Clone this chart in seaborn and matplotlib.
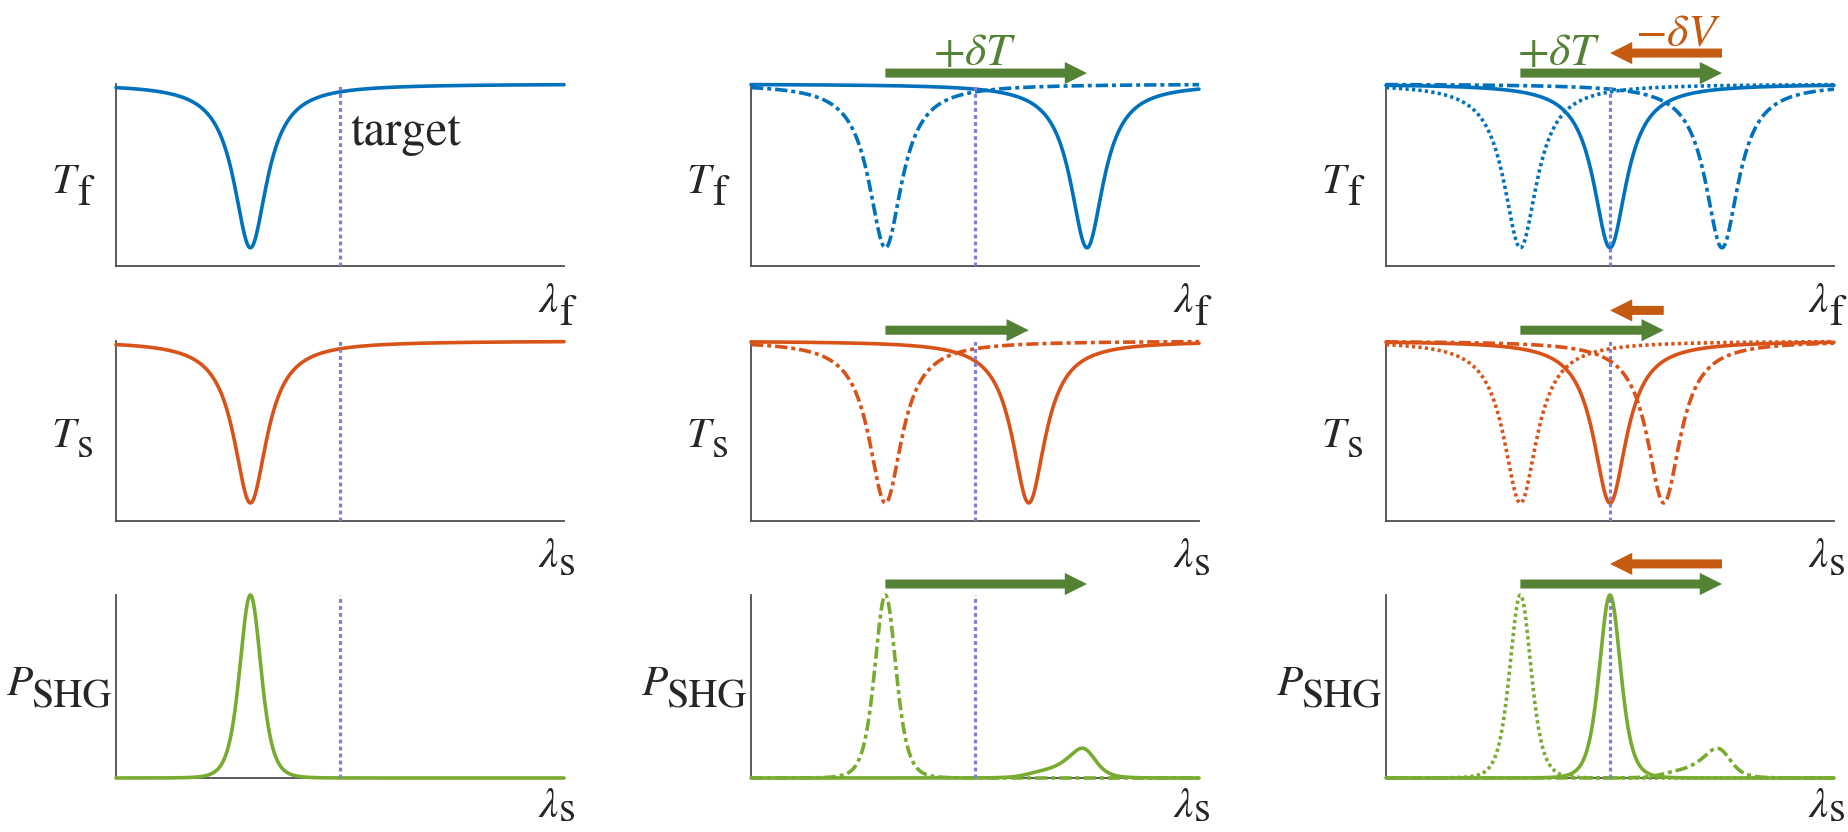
import numpy as np
import pandas as pd
import matplotlib
matplotlib.use("Agg")
import matplotlib.pyplot as plt
import seaborn as sns

# ---------------- data ----------------
# resonance centres as a fraction of the wavelength window, one list per column
fund_centres = [[0.30], [0.30, 0.75], [0.30, 0.75, 0.50]]   # T_f dips
sh_centres = [[0.30], [0.30, 0.62], [0.30, 0.62, 0.50]]     # T_s dips
curve_kinds = [["solid"], ["dashdot", "solid"], ["dotted", "dashdot", "solid"]]
dip_depth = 0.90     # transmission at resonance = 0.10
dip_hwhm = 0.045     # Lorentzian half width of the transmission dips
shg_hwhm = 0.055     # half width of the resonance factors in P_SHG
target_wl = 0.50
y_tick_values = [0, 0.5, 1]
x_tick_values = [0, 1]
row_names = [("T", "f"), ("T", "s"), ("P", "SHG")]
xlab_names = [("\\lambda", "f"), ("\\lambda", "s"), ("\\lambda", "s")]
shift_T_text = "+\\delta T"
shift_V_text = "-\\delta V"
target_text = "target"

# ---------------- style ----------------
sns.set_style("white")
plt.rcParams["font.family"] = ["STIXGeneral", "DejaVu Serif"]
plt.rcParams["mathtext.fontset"] = "stix"

W, H = 1849, 832
fig = plt.figure(figsize=(W / 100, H / 100), dpi=100)

row_colors = ["#0072BD", "#D95319", "#77AC30"]
green_arrow = "#548235"
orange_arrow = "#C55A11"
target_color = "#7F7FD8"
spine_color = "#4d4d4d"
dash_map = {"solid": "-", "dashdot": (0, (3.4, 1.1, 1.1, 1.1)), "dotted": (0, (0.9, 0.9))}

col_left = [116, 751, 1386]
ax_w = 448
row_top = [84, 341, 595]
row_h = [182, 180, 183]

x = np.linspace(0, 1, 1201)


def lorentz(c, w):
    return 1 / (1 + ((x - c) / w) ** 2)


fig.canvas.draw()
renderer = fig.canvas.get_renderer()


def composite(x_px, base_px, main, sub, drop, dx, size=31, sub_size=31):
    t = fig.text(x_px / W, 1 - base_px / H, f"${main}$", fontsize=size,
                 va="baseline", ha="left")
    bb = t.get_window_extent(renderer=renderer)
    fig.text((bb.x1 + dx) / W, 1 - (base_px + drop) / H, sub, fontsize=sub_size,
             va="baseline", ha="left", family="STIXGeneral")


label_dy = [18, 16, 8.5]
label_drop = [12, 10, 13]
label_dx = [-65, -65, -110]
label_sub_size = [31, 31, 29]
xlab_base = [46, 46, 39]
xlab_drop = [13, 8, 4]

for r in range(3):
    for c in range(3):
        L, T, h = col_left[c], row_top[r], row_h[r]
        ax = fig.add_axes([L / W, 1 - (T + h) / H, ax_w / W, h / H])
        for k, kind in enumerate(curve_kinds[c]):
            cf = fund_centres[c][k]
            cs = sh_centres[c][k]
            if r == 0:
                y = 1 - dip_depth * lorentz(cf, dip_hwhm)
            elif r == 1:
                y = 1 - dip_depth * lorentz(cs, dip_hwhm)
            else:
                y = lorentz(cf, shg_hwhm) ** 2 * lorentz(cs, shg_hwhm)
            df = pd.DataFrame({"wl": x, "val": y})
            sns.lineplot(data=df, x="wl", y="val", ax=ax, color=row_colors[r],
                         lw=2.6, linestyle=dash_map[kind], errorbar=None,
                         clip_on=False, zorder=3)
        ax.axvline(target_wl, ymin=0, ymax=1, color=target_color, lw=2.3,
                   linestyle=(0, (1.2, 1.0)), zorder=4)
        ax.set_xlim(0, 1)
        ax.set_ylim(0, 1)
        ax.set_xticks(x_tick_values)
        ax.set_yticks(y_tick_values)
        ax.set_xticklabels([])
        ax.set_yticklabels([])
        ax.set_xlabel("")
        ax.set_ylabel("")
        for s in ["top", "right"]:
            ax.spines[s].set_visible(False)
        for s in ["left", "bottom"]:
            ax.spines[s].set_color(spine_color)
            ax.spines[s].set_linewidth(1.3)
        ax.tick_params(direction="in", length=4, width=1.1, color=spine_color)
        ax.patch.set_alpha(0)

        # shift arrows
        centres = fund_centres[c] if r != 1 else sh_centres[c]
        tr = ax.get_xaxis_transform()
        style = "simple,head_length=1.6,head_width=1.6,tail_width=0.65"
        if c >= 1:
            ax.annotate("", xy=(centres[1], 1.06), xytext=(centres[0], 1.06),
                        xycoords=tr, textcoords=tr, annotation_clip=False,
                        arrowprops=dict(arrowstyle=style, color=green_arrow,
                                        shrinkA=0, shrinkB=0, mutation_scale=10, lw=0))
        if c == 2:
            ax.annotate("", xy=(centres[2], 1.17), xytext=(centres[1], 1.17),
                        xycoords=tr, textcoords=tr, annotation_clip=False,
                        arrowprops=dict(arrowstyle=style, color=orange_arrow,
                                        shrinkA=0, shrinkB=0, mutation_scale=10, lw=0))
        if r == 0 and c == 1:
            ax.text(0.50, 1.104, f"${shift_T_text}$", transform=tr, ha="center",
                    va="baseline", fontsize=33, color=green_arrow)
        if r == 0 and c == 2:
            ax.text(0.385, 1.104, f"${shift_T_text}$", transform=tr, ha="center",
                    va="baseline", fontsize=33, color=green_arrow)
            ax.text(0.652, 1.214, f"${shift_V_text}$", transform=tr, ha="center",
                    va="baseline", fontsize=33, color=orange_arrow)

        # axis labels built from italic symbol + upright subscript
        mid = T + h / 2
        composite(L + label_dx[r], mid + label_dy[r], row_names[r][0], row_names[r][1],
                  label_drop[r], -3, sub_size=label_sub_size[r])
        composite(L + ax_w - 26, T + h + xlab_base[r], xlab_names[r][0], xlab_names[r][1],
                  xlab_drop[r], 0)

fig.text((col_left[0] + ax_w * target_wl + 10) / W, 1 - 145 / H, target_text,
         fontsize=35, va="baseline", ha="left", family="STIXGeneral")

fig.savefig("out.png", dpi=100)
